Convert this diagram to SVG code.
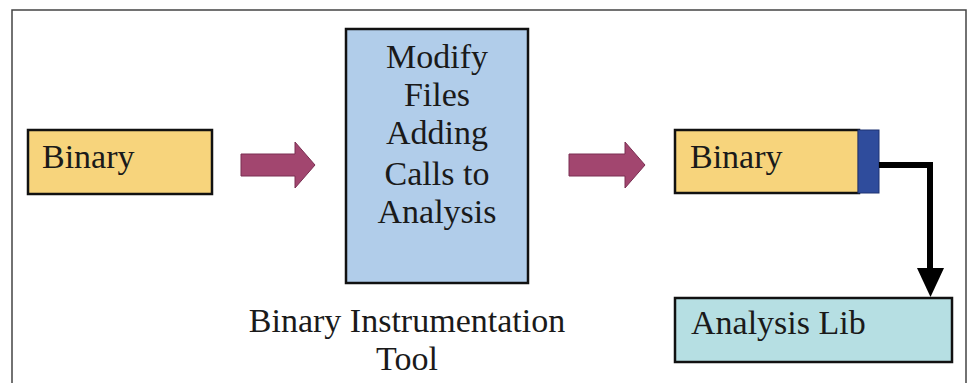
<svg xmlns="http://www.w3.org/2000/svg" width="972" height="383" viewBox="0 0 972 383">
<defs>
<style>
.box{stroke:#111;stroke-width:2.5}
.t{font-family:"Liberation Serif","Times New Roman",serif;font-size:34px;fill:#1a1a1a}
.fat{fill:#A2466F;stroke:#7a2f52;stroke-width:1}
</style>
<marker id="ah" viewBox="0 0 10 10" refX="10" refY="5" markerWidth="5" markerHeight="5" markerUnits="strokeWidth" orient="auto">
<path d="M0,0 L10,5 L0,10 Z" fill="#000"/>
</marker>
</defs>
<rect x="0" y="0" width="972" height="383" fill="#fff"/>
<path d="M12,400 V10 H966 V400" fill="none" stroke="#444" stroke-width="1.5"/>
<g id="binary-in">
<rect class="box" x="28" y="130" width="184" height="64" fill="#F7D47C"/>
<text class="t" x="42" y="168">Binary</text>
</g>
<g id="tool">
<rect class="box" x="346" y="29" width="182" height="254" fill="#B1CDEA"/>
<text class="t" text-anchor="middle" x="437" y="68">Modify</text>
<text class="t" text-anchor="middle" x="437" y="106">Files</text>
<text class="t" text-anchor="middle" x="437" y="144">Adding</text>
<text class="t" text-anchor="middle" x="437" y="185">Calls to</text>
<text class="t" text-anchor="middle" x="437" y="223">Analysis</text>
</g>
<g id="tool-label">
<text class="t" text-anchor="middle" x="407" y="332">Binary Instrumentation</text>
<text class="t" text-anchor="middle" x="407" y="370">Tool</text>
</g>
<g id="binary-out">
<rect class="box" x="675" y="130" width="184" height="63" fill="#F7D47C"/>
<rect x="858" y="130" width="21" height="63" fill="#2F4C9C" stroke="#1e3372" stroke-width="1"/>
<text class="t" x="690" y="168">Binary</text>
</g>
<g id="analysis-lib">
<rect class="box" x="675" y="298" width="277" height="64" fill="#B6DFE3"/>
<text class="t" x="691" y="334">Analysis Lib</text>
</g>
<g id="connectors">
<path class="fat" d="M241,154 H295 V142 L315,165 L295,188 V176 H241 Z"/>
<path class="fat" d="M569,154 H625 V142 L645,165 L625,188 V176 H569 Z"/>
<path d="M879,165 H930 V268" fill="none" stroke="#000" stroke-width="6"/>
<path d="M917,268 H944 L930.5,297 Z" fill="#000"/>
</g>
</svg>
